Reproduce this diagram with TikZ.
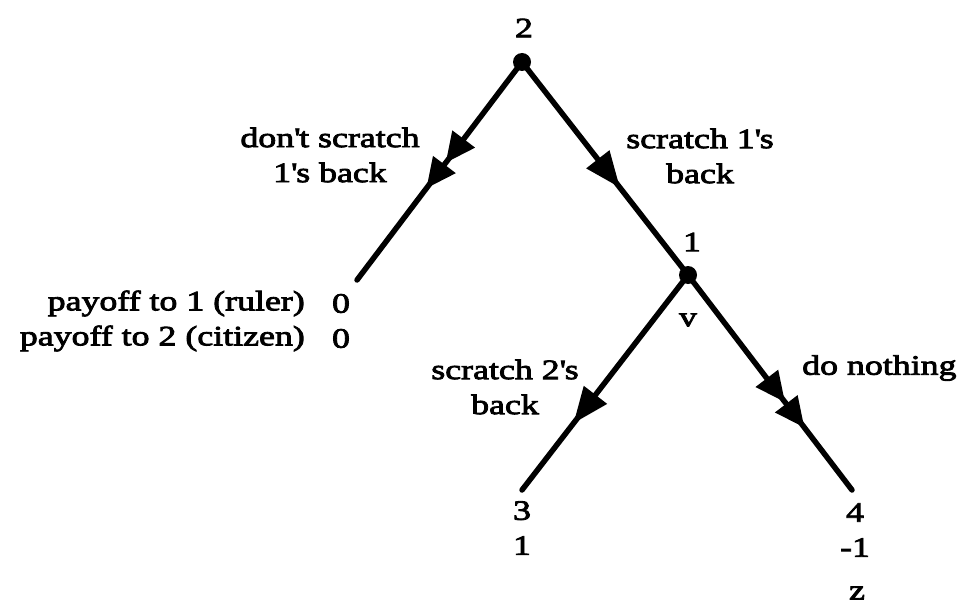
\documentclass[tikz,border=0pt]{standalone}
\usepackage{fontspec}
\setmainfont{Liberation Serif}[FakeStretch=1.28,FakeBold=3]
\usetikzlibrary{arrows.meta,decorations.markings}
\newcommand{\apo}{\textquotesingle}
\begin{document}
\begin{tikzpicture}[x=1pt,y=-1pt,
  font=\fontsize{28pt}{35pt}\selectfont,
  lbl/.style={inner sep=0pt,align=center},
  dot/.style={circle,fill=black,inner sep=0pt,minimum size=18pt},
  edge/.style={line width=5.5pt,line cap=round},
  onehead/.style={postaction={decorate},decoration={markings,
     mark=at position #1 with {\arrow{Triangle[length=36pt,width=28pt]}}}},
  twohead/.style={postaction={decorate},decoration={markings,
     mark=at position #1 with {\arrow{Triangle[length=30pt,width=27pt,sep=2pt] Triangle[length=30pt,width=27pt]}}}}
]
\useasboundingbox (0,0) rectangle (960,607);
% positions
\coordinate (r) at (522,62);
\coordinate (n1) at (688,275);
\coordinate (l0) at (357,280);
\coordinate (l1) at (522,490);
\coordinate (l2) at (852,490);
% edges
\draw[edge,twohead=0.58] (r) -- (l0);
\draw[edge,onehead=0.59] (r) -- (n1);
\draw[edge,onehead=0.69] (n1) -- (l1);
\draw[edge,twohead=0.71] (n1) -- (l2);
% dots
\node[dot] (rdot) at (r) {};
\node[dot] (n1dot) at (n1) {};
% labels
\node[lbl] (p2) at (524,28) {2};
\node[lbl] (p1) at (692,242) {1};
\node[lbl] (v) at (688,320) {v};
\node[lbl] (a1) at (330,155) {don\apo t scratch\\1\apo s back};
\node[lbl] (a2) at (700,156) {scratch 1\apo s\\back};
\node[lbl] (a3) at (505,387) {scratch 2\apo s\\back};
\node[lbl,anchor=west] (a4) at (802,368) {do nothing};
\node[lbl,align=right,anchor=east] (pay) at (305,321) {payoff to 1 (ruler)\\payoff to 2 (citizen)};
\node[lbl] (t0) at (341,321) {0\\0};
\node[lbl] (t1) at (522,528) {3\\1};
\node[lbl] (t2) at (855,530) {4\\-1};
\node[lbl] (z) at (857,593) {z};
\end{tikzpicture}
\end{document}
